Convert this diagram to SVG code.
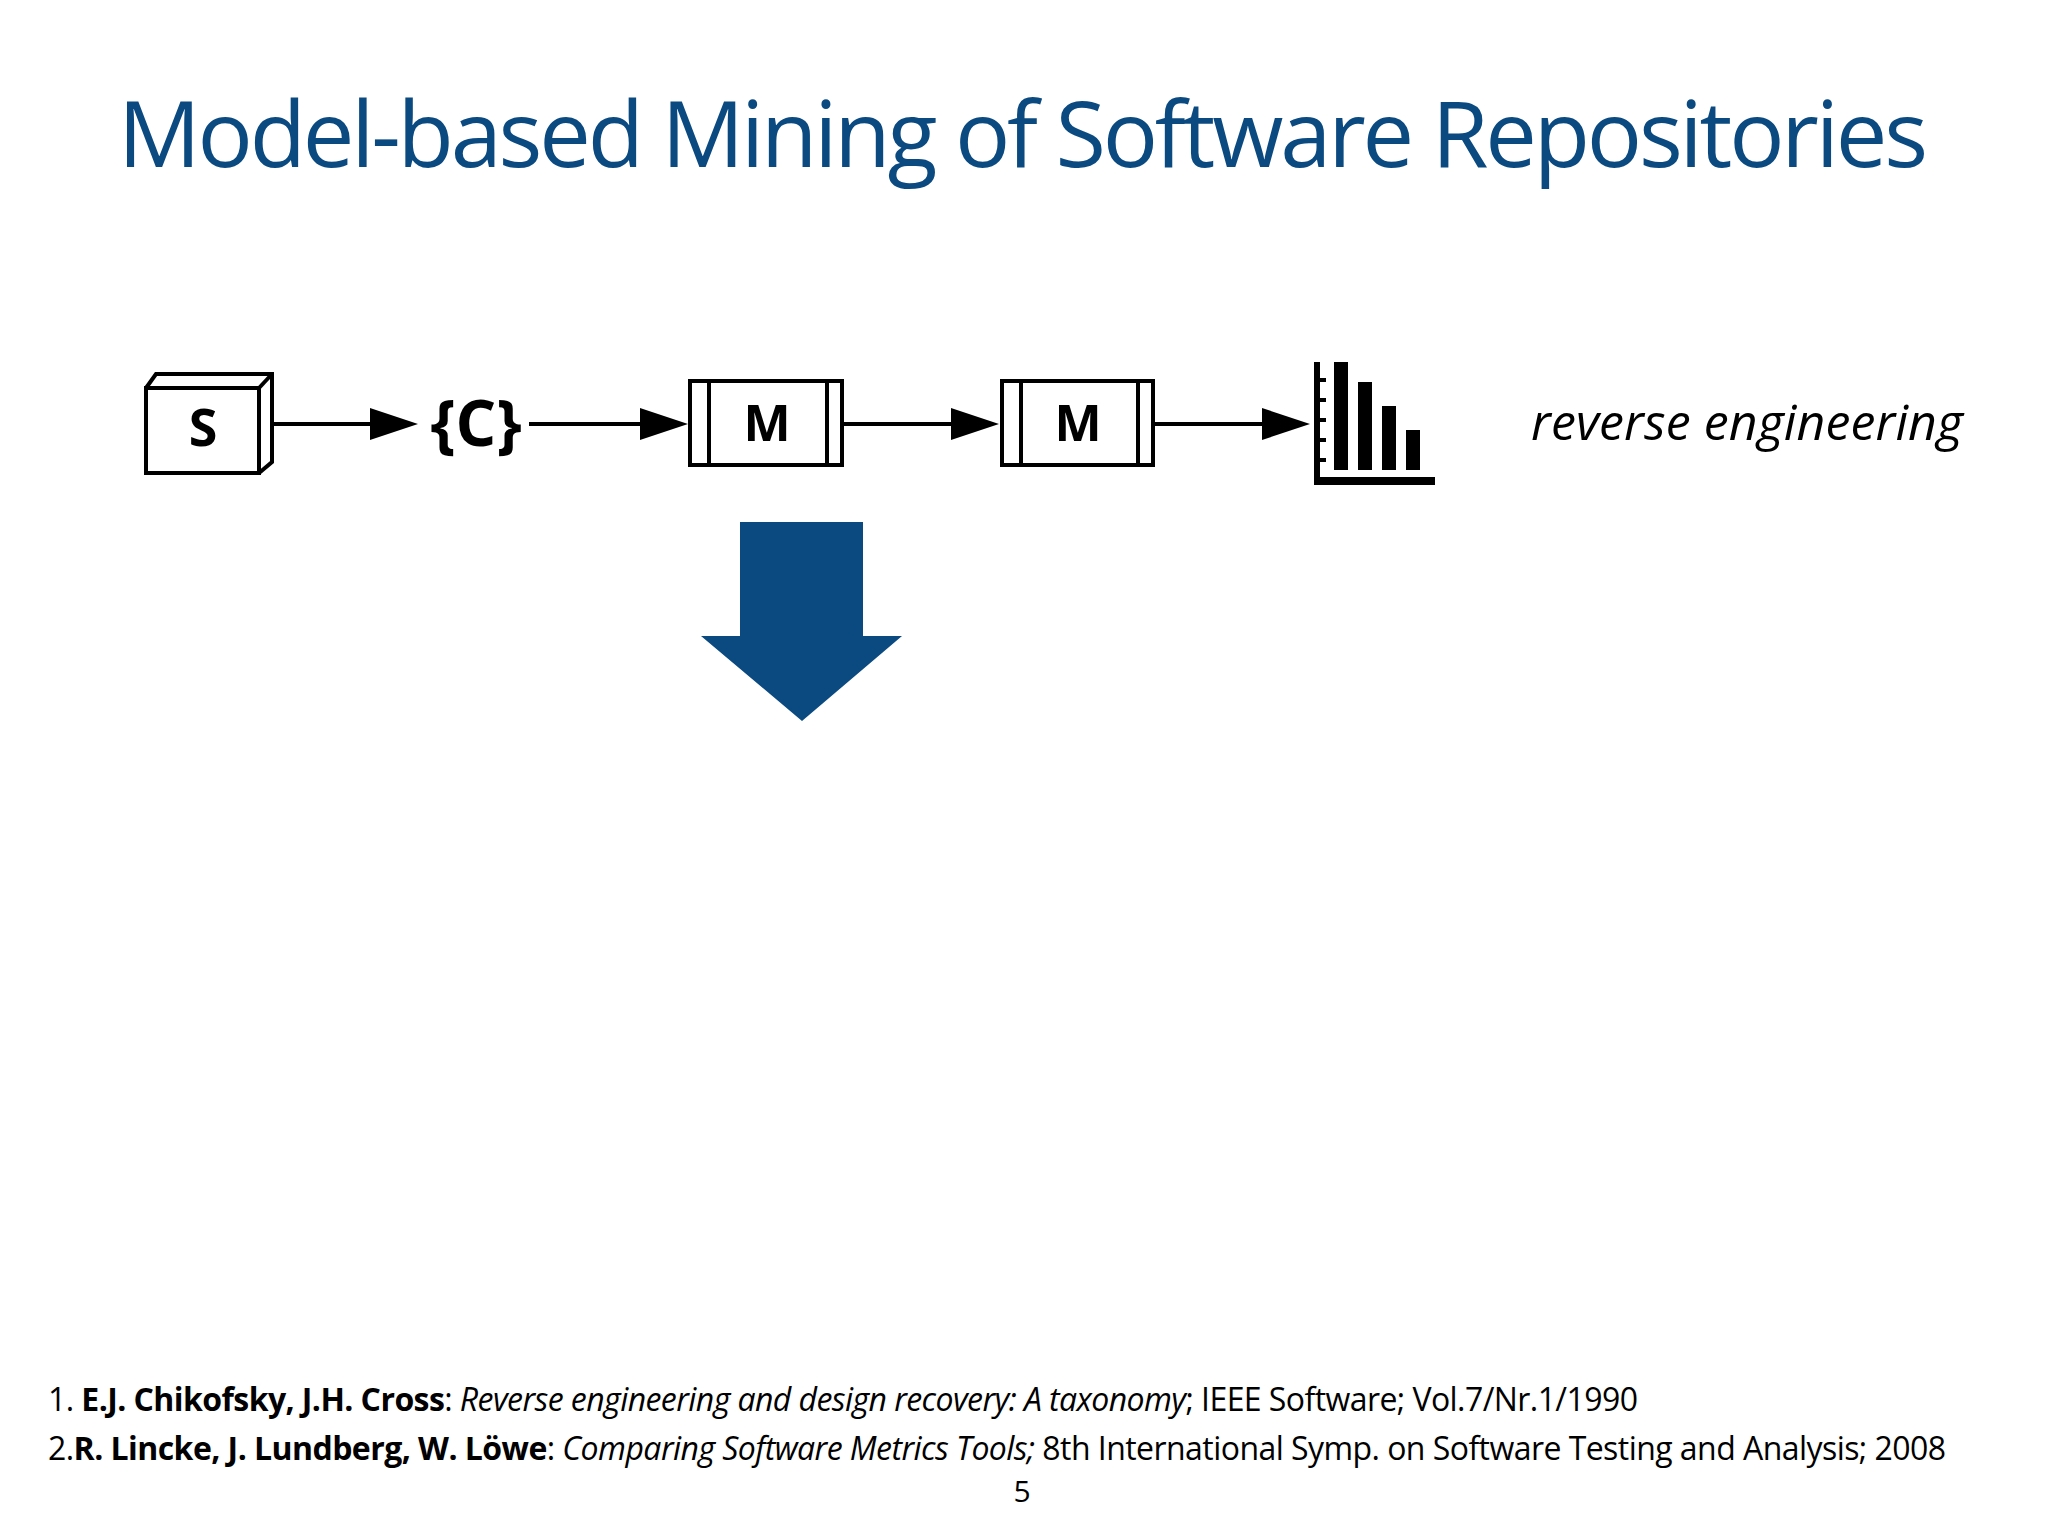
<svg xmlns="http://www.w3.org/2000/svg" width="2048" height="1536" viewBox="0 0 2048 1536">
<style>
.ln{stroke:#000;stroke-width:4;fill:none}
.bx{stroke:#000;stroke-width:4;fill:#fff}
.t{font-family:"Open Sans","DejaVu Sans",sans-serif}
</style>
<rect width="2048" height="1536" fill="#fff"/>
<text class="t" x="1023" y="167" text-anchor="middle" font-size="92" fill="#0b4a80" textLength="1810">Model-based Mining of Software Repositories</text>

<g id="connectors">
<line x1="272" y1="424" x2="372" y2="424" class="ln"/><path d="M370,408 L418,424 L370,440Z"/>
<line x1="529" y1="424" x2="642" y2="424" class="ln"/><path d="M640,408 L688,424 L640,440Z"/>
<line x1="842" y1="424" x2="953" y2="424" class="ln"/><path d="M951,408 L999,424 L951,440Z"/>
<line x1="1153" y1="424" x2="1264" y2="424" class="ln"/><path d="M1262,408 L1310,424 L1262,440Z"/>
</g>

<g id="S">
<path d="M146,388 L156,374 L272,374 L272,462 L259,473" class="bx"/>
<line x1="259" y1="388" x2="272" y2="374" class="ln"/>
<rect x="146" y="388" width="113" height="85" class="bx"/>
<text class="t" x="203" y="446" text-anchor="middle" font-size="52" font-weight="bold">S</text>
</g>
<g id="C"><text class="t" x="476" y="446" text-anchor="middle" font-size="64" font-weight="bold">{C}</text></g>
<g id="M1">
<rect x="690" y="381" width="152" height="84" class="bx"/>
<line x1="709" y1="381" x2="709" y2="465" class="ln"/><line x1="827" y1="381" x2="827" y2="465" class="ln"/>
<text class="t" x="767" y="441" text-anchor="middle" font-size="50" font-weight="bold">M</text>
</g>
<g id="M2">
<rect x="1002" y="381" width="151" height="84" class="bx"/>
<line x1="1021" y1="381" x2="1021" y2="465" class="ln"/><line x1="1138" y1="381" x2="1138" y2="465" class="ln"/>
<text class="t" x="1078" y="441" text-anchor="middle" font-size="50" font-weight="bold">M</text>
</g>
<g id="chart">
<rect x="1314" y="362" width="6" height="122"/>
<rect x="1314" y="477" width="121" height="8"/>
<rect x="1320" y="378" width="6" height="4"/><rect x="1320" y="398" width="6" height="4"/><rect x="1320" y="418" width="6" height="4"/><rect x="1320" y="438" width="6" height="4"/><rect x="1320" y="458" width="6" height="4"/>
<rect x="1334" y="362" width="14" height="108"/>
<rect x="1358" y="382" width="14" height="88"/>
<rect x="1382" y="406" width="14" height="64"/>
<rect x="1406" y="430" width="14" height="40"/>
</g>
<text class="t" x="1531" y="440" font-size="50" font-style="italic" textLength="432">reverse engineering</text>

<g id="bigarrow"><path d="M740,522 L863,522 L863,636 L902,636 L802,721 L701,636 L740,636 Z" fill="#0b4a80"/></g>

<g class="t" font-size="32">
<text x="48" y="1411" textLength="1590">1. <tspan font-weight="bold">E.J. Chikofsky, J.H. Cross</tspan>: <tspan font-style="italic">Reverse engineering and design recovery: A taxonomy</tspan>; IEEE Software; Vol.7/Nr.1/1990</text>
<text x="48" y="1460" textLength="1898">2.<tspan font-weight="bold">R. Lincke, J. Lundberg, W. Löwe</tspan>: <tspan font-style="italic">Comparing Software Metrics Tools;</tspan> 8th International Symp. on Software Testing and Analysis; 2008</text>
<text x="1022" y="1502" text-anchor="middle" font-size="30">5</text>
</g>
</svg>
